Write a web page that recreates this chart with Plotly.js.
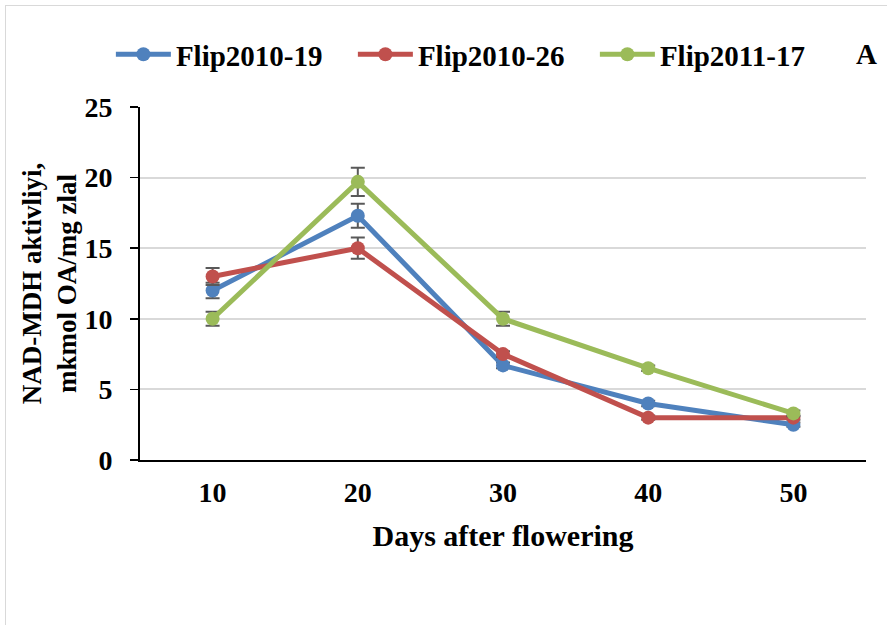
<!DOCTYPE html>
<html>
<head>
<meta charset="utf-8">
<script src="https://cdn.plot.ly/plotly-3.0.1.min.js"></script>
<style>
  html, body { margin: 0; padding: 0; background: #fff; }
  #wrap { position: relative; width: 887px; height: 625px; overflow: hidden; }
  #chart { width: 887px; height: 625px; }
  #frame { position: absolute; left: 5px; top: 5px; width: 890px; height: 640px;
           border: 1px solid #d9d9d9; pointer-events: none; }
</style>
</head>
<body>
<div id="wrap">
  <div id="chart"></div>
  <div id="frame"></div>
</div>
<script>
// Days after flowering
const days = ['10', '20', '30', '40', '50'];

// NAD-MDH activity per line
const flip201019 = [12.0, 17.3, 6.7, 4.0, 2.5];
const flip201026 = [13.0, 15.0, 7.5, 3.0, 3.0];
const flip201117 = [10.0, 19.7, 10.0, 6.5, 3.3];

// Standard errors
const err201019 = [0.55, 0.85, 0.2, 0.2, 0.15];
const err201026 = [0.6, 0.75, 0.2, 0.15, 0.15];
const err201117 = [0.5, 1.0, 0.5, 0.2, 0.2];

const names = ['Flip2010-19', 'Flip2010-26', 'Flip2011-17'];
const colors = ['#4f81bd', '#c0504d', '#9bbb59'];

const serif = 'Liberation Serif';

function series(name, y, err, color) {
  return {
    type: 'scatter', mode: 'lines+markers', name: name,
    x: days, y: y,
    line: { color: color, width: 5 },
    marker: { color: color, size: 14 },
    error_y: { type: 'data', array: err, visible: true,
               color: '#595959', thickness: 2, width: 7 }
  };
}

const data = [
  series(names[0], flip201019, err201019, colors[0]),
  series(names[1], flip201026, err201026, colors[1]),
  series(names[2], flip201117, err201117, colors[2])
];

const layout = {
  width: 887, height: 625,
  margin: { l: 140, r: 21, t: 107, b: 165 },
  paper_bgcolor: '#fff', plot_bgcolor: '#fff',
  font: { family: serif, color: '#000', size: 20, weight: 'bold' },
  showlegend: true,
  legend: {
    orientation: 'h', xref: 'container', yref: 'container',
    x: 0.125, y: 0.913, xanchor: 'left', yanchor: 'middle',
    font: { family: serif, size: 29, color: '#000', weight: 'bold' },
    itemwidth: 55, entrywidth: 172, entrywidthmode: 'pixels',
    bgcolor: 'rgba(0,0,0,0)'
  },
  xaxis: {
    type: 'category', range: [-0.5, 4.5],
    showline: true, linecolor: '#000', linewidth: 2,
    ticks: '', showgrid: false, zeroline: false,
    tickfont: { family: serif, size: 28, weight: 'bold' },
    ticklabelstandoff: 6,
    title: { text: 'Days after flowering', standoff: 18,
             font: { family: serif, size: 30, weight: 'bold' } }
  },
  yaxis: {
    range: [0, 25], dtick: 5,
    showline: true, linecolor: '#000', linewidth: 2,
    ticks: 'outside', ticklen: 8, tickwidth: 1.5, tickcolor: '#000',
    showgrid: true, gridcolor: '#d9d9d9', gridwidth: 2, zeroline: false,
    tickfont: { family: serif, size: 28, weight: 'bold' },
    ticklabelstandoff: 12,
    title: { text: 'NAD-MDH aktivliyi,<br>mkmol OA/mg zlal', standoff: 0,
             font: { family: serif, size: 27, weight: 'bold' } }
  },
  annotations: [{
    text: 'A', xref: 'paper', yref: 'paper', x: 1.018, y: 1.15,
    xanchor: 'right', yanchor: 'middle', showarrow: false,
    font: { family: serif, size: 29, color: '#000', weight: 'bold' }
  }]
};

Plotly.newPlot('chart', data, layout, { displayModeBar: false, staticPlot: true });
</script>
</body>
</html>
